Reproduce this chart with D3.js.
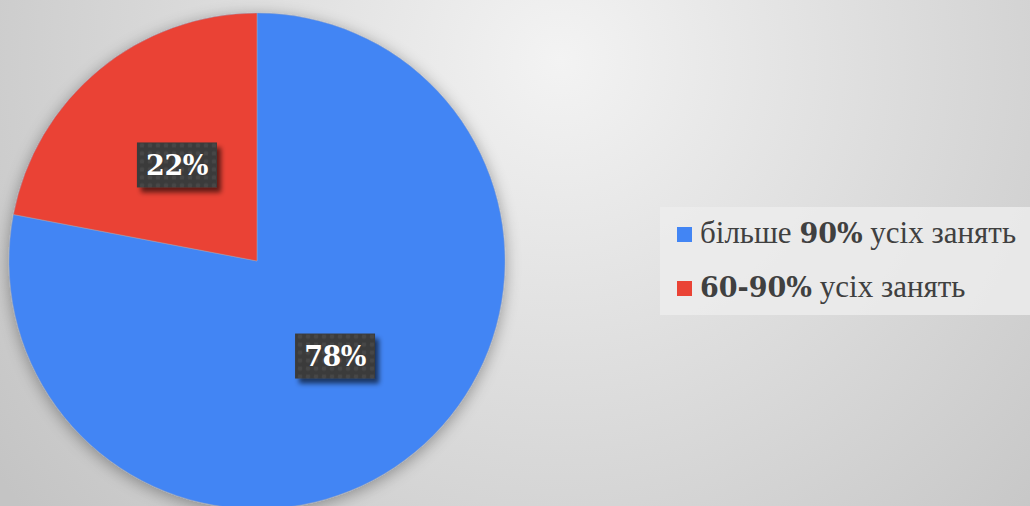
<!DOCTYPE html>
<html>
<head>
<meta charset="utf-8">
<script src="https://cdn.jsdelivr.net/npm/d3@7"></script>
<style>
  body { margin: 0; overflow: hidden; }
</style>
</head>
<body>
<div id="chart"></div>
<script>
// data
var categories = ["більше 90% усіх занять", "60-90% усіх занять"];
var values = [78, 22];
var labels = ["78%", "22%"];
var legendBold = ["90%", "60-90%"];
var legendBefore = ["більше ", ""];
var legendAfter = [" усіх занять", " усіх занять"];

var width = 1030, height = 506;
var cx = 257, cy = 261, radius = 248;

var svg = d3.select("#chart")
    .append("svg")
    .attr("width", width)
    .attr("height", height);

var defs = svg.append("defs");

// background gradient
var bg = defs.append("radialGradient")
    .attr("id", "bg")
    .attr("gradientUnits", "userSpaceOnUse")
    .attr("cx", 560).attr("cy", 60).attr("r", 700);
bg.append("stop").attr("offset", "0%").attr("stop-color", "#f3f3f3");
bg.append("stop").attr("offset", "100%").attr("stop-color", "#c4c4c4");

svg.append("rect")
    .attr("width", width).attr("height", height)
    .attr("fill", "url(#bg)");

// pie shadow
var blur = defs.append("filter").attr("id", "pieShadow")
    .attr("x", "-20%").attr("y", "-20%").attr("width", "140%").attr("height", "140%");
blur.append("feGaussianBlur").attr("in", "SourceAlpha").attr("stdDeviation", 8);
blur.append("feOffset").attr("dx", 0).attr("dy", 3).attr("result", "b");
blur.append("feComponentTransfer").append("feFuncA").attr("type", "linear").attr("slope", 0.35);
var m = blur.append("feMerge");
m.append("feMergeNode");
m.append("feMergeNode").attr("in", "SourceGraphic");

var labelShadow = defs.append("filter").attr("id", "boxShadow")
    .attr("x", "-30%").attr("y", "-30%").attr("width", "160%").attr("height", "170%");
labelShadow.append("feGaussianBlur").attr("in", "SourceAlpha").attr("stdDeviation", 2.5);
labelShadow.append("feOffset").attr("dx", 4).attr("dy", 5);
labelShadow.append("feComponentTransfer").append("feFuncA").attr("type", "linear").attr("slope", 0.6);
var m2 = labelShadow.append("feMerge");
m2.append("feMergeNode");
m2.append("feMergeNode").attr("in", "SourceGraphic");

// dotted texture for label boxes
var pat = defs.append("pattern").attr("id", "dots")
    .attr("width", 8).attr("height", 8).attr("patternUnits", "userSpaceOnUse");
pat.append("rect").attr("width", 8).attr("height", 8).attr("fill", "#3b3b3b");
pat.append("circle").attr("cx", 4).attr("cy", 4).attr("r", 2.2).attr("fill", "#474747");

var color = d3.scaleOrdinal()
    .domain(categories)
    .range(["#4285f4", "#ea4335"]);

var pie = d3.pie().sort(null).value(function(d) { return d; });
var arcs = pie(values);

var arc = d3.arc().innerRadius(0).outerRadius(radius);
var labelArc = d3.arc().innerRadius(radius * 0.5).outerRadius(radius * 0.5);

var g = svg.append("g").attr("transform", "translate(" + cx + "," + cy + ")");

g.append("g").attr("filter", "url(#pieShadow)")
    .selectAll("path")
    .data(arcs)
    .enter()
    .append("path")
    .attr("d", arc)
    .attr("fill", function(d, i) { return color(categories[i]); })
    .attr("stroke", "#9aa7c0")
    .attr("stroke-width", 0.5);

// data labels
var lbl = g.selectAll(".lbl")
    .data(arcs)
    .enter()
    .append("g")
    .attr("class", "lbl")
    .attr("transform", function(d) {
        var c = labelArc.centroid(d);
        return "translate(" + c[0] + "," + c[1] + ")";
    });

lbl.append("rect")
    .attr("x", -41).attr("y", -23)
    .attr("width", 80).attr("height", 45)
    .attr("fill", "url(#dots)")
    .attr("filter", "url(#boxShadow)");

lbl.append("text")
    .attr("x", -1)
    .attr("text-anchor", "middle")
    .attr("dy", "0.36em")
    .style("font-family", "'DejaVu Serif', serif")
    .style("font-weight", "bold")
    .style("font-size", "27px")
    .style("fill", "#ffffff")
    .style("letter-spacing", "-0.5px")
    .text(function(d, i) { return labels[i]; });

// legend
svg.append("rect")
    .attr("x", 660).attr("y", 207)
    .attr("width", 370).attr("height", 108)
    .attr("fill", "#ececec")
    .attr("opacity", 0.85);

var leg = svg.selectAll(".leg")
    .data(categories)
    .enter()
    .append("g")
    .attr("class", "leg")
    .attr("transform", function(d, i) { return "translate(677," + (227 + i * 54) + ")"; });

leg.append("rect")
    .attr("width", 15).attr("height", 15)
    .attr("fill", function(d) { return color(d); });

var lt = leg.append("text")
    .attr("x", 23).attr("y", 16)
    .style("font-family", "'Liberation Serif', 'Times New Roman', serif")
    .style("font-size", "31px")
    .style("fill", "#404040");

lt.append("tspan").text(function(d, i) { return legendBefore[i]; });
lt.append("tspan")
    .style("font-family", "'DejaVu Serif', serif")
    .style("font-weight", "bold")
    .style("font-size", "27px")
    .text(function(d, i) { return legendBold[i]; });
lt.append("tspan").text(function(d, i) { return legendAfter[i]; });
</script>
</body>
</html>
